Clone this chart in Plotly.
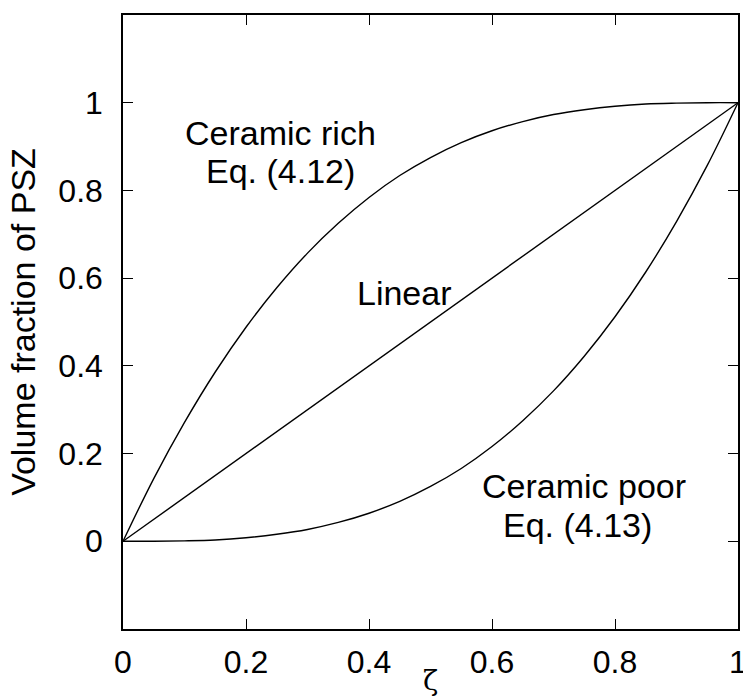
import plotly.graph_objects as go

zeta = [0.0, 0.05, 0.1, 0.15, 0.2, 0.25, 0.3, 0.35, 0.4, 0.45, 0.5,
        0.55, 0.6, 0.65, 0.7, 0.75, 0.8, 0.85, 0.9, 0.95, 1.0]
ceramic_rich = [0.0, 0.143, 0.271, 0.386, 0.488, 0.578, 0.657, 0.725, 0.784, 0.834, 0.875,
                0.909, 0.936, 0.957, 0.973, 0.984, 0.992, 0.997, 0.999, 1.0, 1.0]
ceramic_poor = [0.0, 0.0001, 0.001, 0.003, 0.008, 0.016, 0.027, 0.043, 0.064, 0.091, 0.125,
                0.166, 0.216, 0.275, 0.343, 0.422, 0.512, 0.614, 0.729, 0.857, 1.0]
linear_x = [0.0, 1.0]
linear_y = [0.0, 1.0]

x_ticks = [0, 0.2, 0.4, 0.6, 0.8, 1]
x_tick_text = ["0", "0.2", "0.4", "0.6", "0.8", "1"]
y_ticks = [0, 0.2, 0.4, 0.6, 0.8, 1]
y_tick_text = ["0", "0.2", "0.4", "0.6", "0.8", "1"]
x_title = "ζ"
y_title = "Volume fraction of PSZ"

labels = [
    ("Ceramic rich", 0.256, 0.930),
    ("Eq. (4.12)", 0.256, 0.845),
    ("Linear", 0.457, 0.566),
    ("Ceramic poor", 0.749, 0.126),
    ("Eq. (4.13)", 0.739, 0.037),
]

FONT = "Liberation Sans, Arial, sans-serif"
line_style = dict(color="black", width=1.4)

fig = go.Figure()
fig.add_trace(go.Scatter(x=zeta, y=ceramic_rich, mode="lines", line=dict(**line_style, shape="spline")))
fig.add_trace(go.Scatter(x=linear_x, y=linear_y, mode="lines", line=line_style))
fig.add_trace(go.Scatter(x=zeta, y=ceramic_poor, mode="lines", line=dict(**line_style, shape="spline")))

for text, x, y in labels:
    fig.add_annotation(x=x, y=y, text=text, showarrow=False, xanchor="center", yanchor="middle",
                       font=dict(family=FONT, size=34, color="black"))

# x-axis title placed below the tick labels, kept inside the page
fig.add_annotation(x=0.5, y=-0.1135, xref="paper", yref="paper", text=x_title, showarrow=False,
                   xanchor="center", yanchor="bottom",
                   font=dict(family="DejaVu Serif, serif", size=28, color="black"))

axis_common = dict(showgrid=False, zeroline=False, showline=True, linecolor="black", linewidth=1.5,
                   mirror="ticks", ticks="inside", ticklen=10, tickwidth=1.2, tickcolor="black",
                   ticklabeloverflow="allow", automargin=False,
                   tickfont=dict(family=FONT, size=32, color="black"))

fig.update_xaxes(range=[0, 1], tickvals=x_ticks, ticktext=x_tick_text,
                 ticklabelstandoff=4, **axis_common)
fig.update_yaxes(range=[-0.2, 1.2], tickvals=y_ticks, ticktext=y_tick_text,
                 title=dict(text=y_title, font=dict(family=FONT, size=34, color="black"), standoff=12),
                 ticklabelstandoff=12, **axis_common)

fig.update_layout(width=743, height=699, margin=dict(l=123, r=5, t=15, b=70),
                  plot_bgcolor="white", paper_bgcolor="white", showlegend=False)

fig.write_html("out.html")
